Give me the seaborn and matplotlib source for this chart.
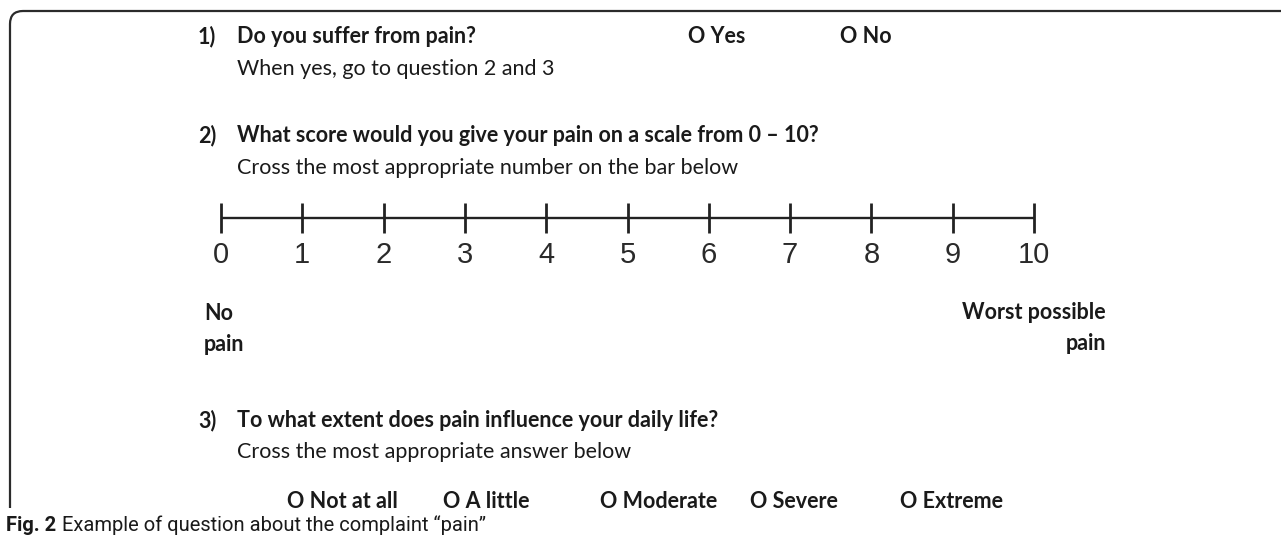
import matplotlib
matplotlib.use("Agg")
import pandas as pd
import seaborn as sns
import matplotlib.pyplot as plt
from matplotlib.path import Path
from matplotlib.patches import PathPatch
from matplotlib import font_manager as fm

# scale data
scores = [0, 1, 2, 3, 4, 5, 6, 7, 8, 9, 10]
score_labels = ["0", "1", "2", "3", "4", "5", "6", "7", "8", "9", "10"]
low_label = ["No", "pain"]
high_label = ["Worst possible", "pain"]

# questionnaire texts
q_numbers = ["1)", "2)", "3)"]
questions = ["Do you suffer from pain?",
             "What score would you give your pain on a scale from 0 \u2013 10?",
             "To what extent does pain influence your daily life?"]
hints = ["When yes, go to question 2 and 3",
         "Cross the most appropriate number on the bar below",
         "Cross the most appropriate answer below"]
yes_no = ["O Yes", "O No"]
answers = ["O Not at all", "O A little", "O Moderate", "O Severe", "O Extreme"]
caption_bold = "Fig. 2"
caption_text = "Example of question about the complaint \u201cpain\u201d"

sns.set_theme(style="white")
names = {f.name for f in fm.fontManager.ttflist}
narrow = "Liberation Sans Narrow" if "Liberation Sans Narrow" in names else "Roboto"
plt.rcParams["font.family"] = ["Lato", "DejaVu Sans"]

W, H = 1281, 544
fig = plt.figure(figsize=(W / 100, H / 100), dpi=100)
fig.patch.set_facecolor("white")

# background axes in pixel units for text and frame
bg = fig.add_axes([0, 0, 1, 1])
bg.set_xlim(0, W)
bg.set_ylim(H, 0)
bg.axis("off")

ink = "#1a1a1a"
fs = 15.5

# frame: left and top edge with rounded corner
verts = [(10, 508), (10, 24), (10, 11), (23, 11), (W + 10, 11)]
codes = [Path.MOVETO, Path.LINETO, Path.CURVE3, Path.CURVE3, Path.LINETO]
bg.add_patch(PathPatch(Path(verts, codes), fill=False, lw=1.6, edgecolor="#2b2b2b",
                       clip_on=False))

q_base = [43, 142, 427]
h_base = [75, 174, 458]
for num, q, h, yq, yh in zip(q_numbers, questions, hints, q_base, h_base):
    bg.text(198, yq, num, fontsize=fs, fontweight="bold", color=ink, va="baseline")
    bg.text(237, yq, q, fontsize=fs, fontweight="bold", color=ink, va="baseline")
    bg.text(237, yh, h, fontsize=fs, color=ink, va="baseline")

for lab, x in zip(yes_no, [688, 840]):
    bg.text(x, 43, lab, fontsize=fs, fontweight="bold", color=ink, va="baseline")

for lab, x in zip(answers, [287, 443, 600, 750, 900]):
    bg.text(x, 508, lab, fontsize=fs, fontweight="bold", color=ink, va="baseline")

for i, t in enumerate(low_label):
    bg.text(204, 320 + 31 * i, t, fontsize=fs, fontweight="bold", color=ink,
            va="baseline", ha="left")
for i, t in enumerate(high_label):
    bg.text(1106, 319 + 31 * i, t, fontsize=fs, fontweight="bold", color=ink,
            va="baseline", ha="right")

bg.text(6, 531, caption_bold, fontsize=14.5, fontweight="bold", color=ink,
        va="baseline", family=[narrow, "DejaVu Sans"])
bg.text(62, 531, caption_text, fontsize=14.5, color=ink, va="baseline",
        family=[narrow, "DejaVu Sans"])

# the 0-10 scale bar
x0, x1, yline = 221, 1034, 218
ax = fig.add_axes([x0 / W, 1 - (yline + 60) / H, (x1 - x0) / W, 120 / H])
ax.set_xlim(min(scores), max(scores))
ax.set_ylim(-2, 2)
ax.axis("off")
bar = pd.DataFrame({"score": [min(scores), max(scores)], "y": [0, 0]})
sns.lineplot(data=bar, x="score", y="y", ax=ax, color="#222222", lw=1.7)
ticks = pd.DataFrame({"score": scores, "y": [0] * len(scores)})
sns.scatterplot(data=ticks, x="score", y="y", ax=ax, marker="|", s=440,
                linewidth=2.0, color="#222222", clip_on=False)
for s, lab in zip(scores, score_labels):
    ax.text(s, -37 / 30, lab, ha="center", va="center", fontsize=21,
            color="#2a2a2a", family=["Liberation Sans", "DejaVu Sans"])
if ax.get_legend():
    ax.get_legend().remove()

fig.savefig("out.png", dpi=100, facecolor="white")
